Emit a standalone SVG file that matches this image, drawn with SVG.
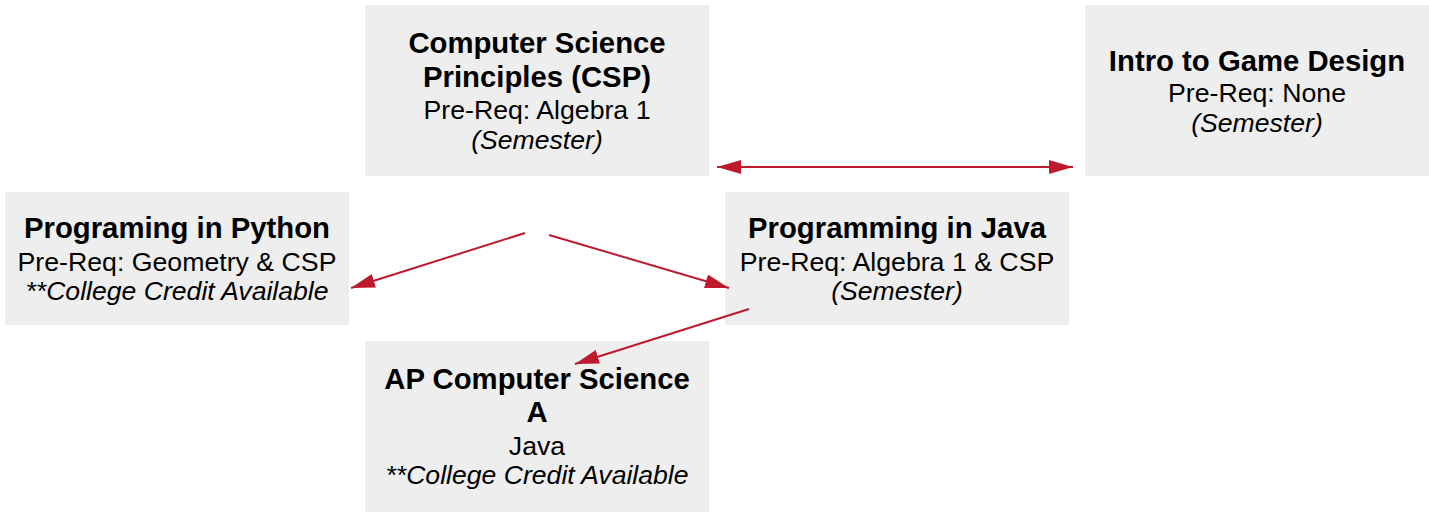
<svg xmlns="http://www.w3.org/2000/svg" width="1429" height="512" viewBox="0 0 1429 512">
<style>
.box{fill:#eeeeee}
text{font-family:"Liberation Sans",Arial,sans-serif;fill:#000;text-anchor:middle}
.t{font-weight:bold;font-size:29.3px}
.r{font-size:26.7px}
.i{font-size:26.6px;font-style:italic}
.c{stroke:#be1a2e;stroke-width:2;fill:none}
</style>
<defs>
<marker id="ah" markerUnits="userSpaceOnUse" markerWidth="25" markerHeight="14" refX="24" refY="7" orient="auto-start-reverse">
<path d="M0,0 L24,7 L0,14 z" fill="#be1a2e"/>
</marker>
</defs>
<rect width="1429" height="512" fill="#ffffff"/>
<g id="csp">
<rect class="box" x="365" y="5" width="344" height="171"/>
<text class="t" x="537" y="53">Computer Science</text>
<text class="t" x="537" y="87">Principles (CSP)</text>
<text class="r" x="537" y="119">Pre-Req: Algebra 1</text>
<text class="i" x="537" y="149">(Semester)</text>
</g>
<g id="game">
<rect class="box" x="1085" y="5" width="344" height="171"/>
<text class="t" x="1257" y="71">Intro to Game Design</text>
<text class="r" x="1257" y="102">Pre-Req: None</text>
<text class="i" x="1257" y="132">(Semester)</text>
</g>
<g id="python">
<rect class="box" x="5" y="192" width="344" height="133"/>
<text class="t" x="177" y="238">Programing in Python</text>
<text class="r" x="177" y="271">Pre-Req: Geometry &amp; CSP</text>
<text class="i" x="177" y="300">**College Credit Available</text>
</g>
<g id="java">
<rect class="box" x="725" y="192" width="344" height="133"/>
<text class="t" x="897" y="238">Programming in Java</text>
<text class="r" x="897" y="271">Pre-Req: Algebra 1 &amp; CSP</text>
<text class="i" x="897" y="300">(Semester)</text>
</g>
<g id="apcsa">
<rect class="box" x="365" y="341" width="344" height="171"/>
<text class="t" x="537" y="389">AP Computer Science</text>
<text class="t" x="537" y="422">A</text>
<text class="r" x="537" y="455">Java</text>
<text class="i" x="537" y="484">**College Credit Available</text>
</g>
<g id="connectors">
<line class="c" x1="717" y1="167" x2="1073" y2="167" marker-start="url(#ah)" marker-end="url(#ah)"/>
<line class="c" x1="525" y1="233" x2="351" y2="288" marker-end="url(#ah)"/>
<line class="c" x1="549" y1="235" x2="729" y2="288" marker-end="url(#ah)"/>
<line class="c" x1="749" y1="309" x2="575" y2="364" marker-end="url(#ah)"/>
</g>
</svg>
